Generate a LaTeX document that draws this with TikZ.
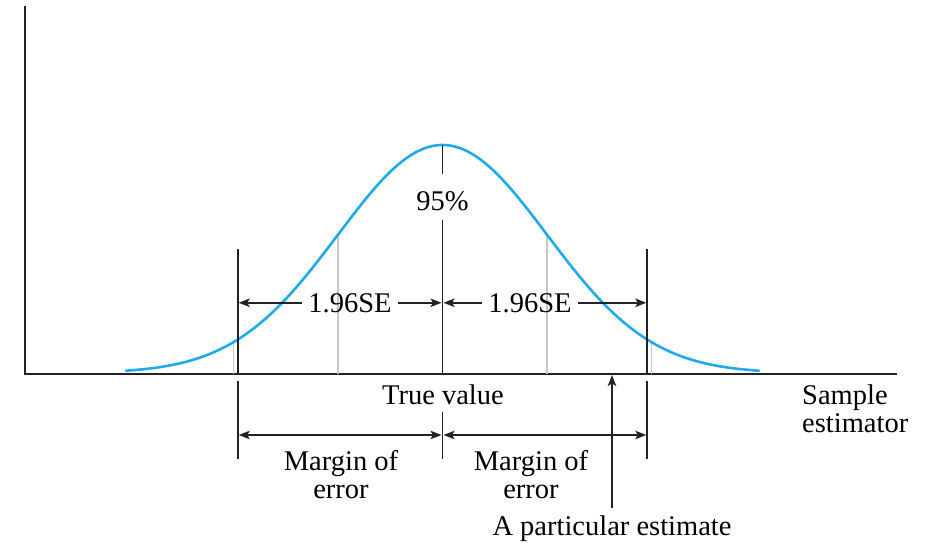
\documentclass[tikz,border=0pt]{standalone}
\usepackage{fontspec}
\setmainfont{Liberation Serif}
\usetikzlibrary{arrows.meta}
\definecolor{curveblue}{RGB}{30,170,235}
\definecolor{ink}{RGB}{35,35,35}
\begin{document}
\begin{tikzpicture}[x=1pt,y=-1pt,
  axis/.style={line width=2pt, ink},
  tickline/.style={line width=1.8pt, ink},
  guide/.style={line width=1.4pt, black!22},
  dimarrow/.style={line width=1.5pt, ink, {Stealth[length=11pt,width=8.5pt,inset=2.5pt]}-{Stealth[length=11pt,width=8.5pt,inset=2.5pt]}},
  onearrow/.style={line width=1.5pt, ink, -{Stealth[length=11pt,width=8.5pt,inset=2.5pt]}},
  lbl/.style={font=\fontsize{28.5}{29}\selectfont, inner sep=0pt, anchor=base, text=black},
  selbl/.style={font=\fontsize{28.5}{29}\selectfont, inner sep=6pt, anchor=base, text=black},
]
\useasboundingbox (0,0) rectangle (935,542);

% axes
\coordinate (origin) at (25,374);
\coordinate (ytop) at (25,6);
\coordinate (xend) at (897,374);
\draw[axis] (ytop) -- (origin) -- (xend);

% guide lines (1 sigma and 2 sigma)
\coordinate (g1b) at (338,374);   \coordinate (g1t) at (338,234.7);
\coordinate (g2b) at (547,374);   \coordinate (g2t) at (547,234.7);
\coordinate (g3b) at (233.5,374); \coordinate (g3t) at (233.5,342.2);
\coordinate (g4b) at (651.5,374); \coordinate (g4t) at (651.5,342.2);
\draw[guide] (g1b) -- (g1t);
\draw[guide] (g2b) -- (g2t);
\draw[guide] (g3b) -- (g3t);
\draw[guide] (g4b) -- (g4t);

% normal curve
\draw[curveblue, line width=2.6pt, line cap=round] plot[domain=-3.03:3.03, samples=121, smooth]
  ({442.5+104.5*\x},{373-228*exp(-0.5*(\x)*(\x))});

% vertical black lines
\coordinate (lu1) at (237.7,249); \coordinate (lu2) at (237.7,374);
\coordinate (ll1) at (237.7,381); \coordinate (ll2) at (237.7,459);
\coordinate (ru1) at (647.3,249); \coordinate (ru2) at (647.3,374);
\coordinate (rl1) at (647.3,381); \coordinate (rl2) at (647.3,459);
\coordinate (cu1) at (442.5,145); \coordinate (cu2) at (442.5,174);
\coordinate (cm1) at (442.5,220); \coordinate (cm2) at (442.5,374);
\coordinate (cl1) at (442.5,412); \coordinate (cl2) at (442.5,459);
\draw[tickline] (lu1) -- (lu2);
\draw[tickline] (ll1) -- (ll2);
\draw[tickline] (ru1) -- (ru2);
\draw[tickline] (rl1) -- (rl2);
\draw[tickline] (cu1) -- (cu2);
\draw[tickline] (cm1) -- (cm2);
\draw[tickline] (cl1) -- (cl2);

% labels
\node[lbl] (pct) at (442.5,210) {95\%};
\node[selbl] (se1) at (350,312) {1.96SE};
\node[selbl] (se2) at (530,312) {1.96SE};
\node[lbl] (tv) at (443,404) {True value};
\node[lbl] (m1a) at (341,470) {Margin of};
\node[lbl] (m1b) at (341,498) {error};
\node[lbl] (m2a) at (531,470) {Margin of};
\node[lbl] (m2b) at (531,498) {error};
\node[lbl, anchor=base west] (s1) at (802,404) {Sample};
\node[lbl, anchor=base west] (s2) at (802,432) {estimator};
\node[lbl] (est) at (612,535) {A particular estimate};

% 1.96SE arrows
\coordinate (seL) at (238.7,302);
\coordinate (seCl) at (441.5,302);
\coordinate (seCr) at (443.5,302);
\coordinate (seR) at (646.3,302);
\draw[onearrow] (se1.west) -- (se1.west -| seL);
\draw[onearrow] (se1.east) -- (se1.east -| seCl);
\draw[onearrow] (se2.west) -- (se2.west -| seCr);
\draw[onearrow] (se2.east) -- (se2.east -| seR);

% margin of error arrows
\coordinate (mL) at (238.7,435);
\coordinate (mCl) at (441.5,435);
\coordinate (mCr) at (443.5,435);
\coordinate (mR) at (646.3,435);
\draw[dimarrow] (mL) -- (mCl);
\draw[dimarrow] (mCr) -- (mR);

% particular estimate arrow
\coordinate (estbot) at (612,508);
\coordinate (esttop) at (612,375);
\draw[onearrow] (estbot) -- (esttop);
\end{tikzpicture}
\end{document}
